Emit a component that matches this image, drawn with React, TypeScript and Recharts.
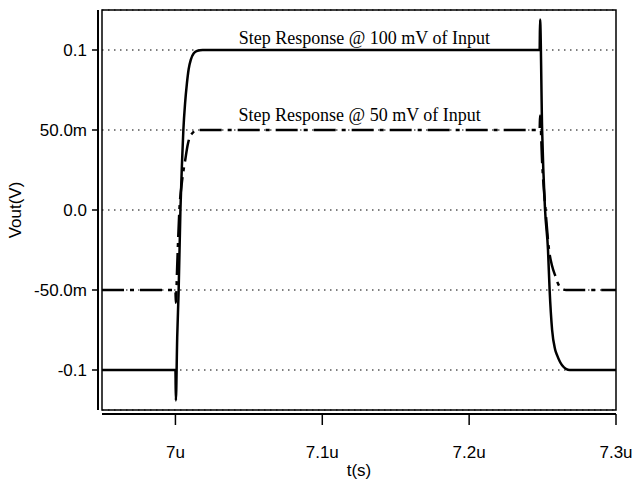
import {
  Label,
  Line,
  LineChart,
  ReferenceArea,
  ReferenceDot,
  CartesianGrid,
  XAxis,
  YAxis,
} from "recharts";

// time in microseconds, Vout in volts
const solidTime = [
  6.95, 7.0, 7.0003, 7.0012, 7.0022, 7.0034, 7.0045, 7.0054, 7.0066, 7.0078,
  7.009, 7.0105, 7.0125, 7.015, 7.0185, 7.248, 7.2483, 7.2497, 7.2517,
  7.2537, 7.2548, 7.2565, 7.2585, 7.26, 7.2633, 7.2685, 7.3,
];
const solidVout = [
  -0.1, -0.1, -0.119, -0.08, -0.05, 0.0, 0.03, 0.05, 0.067, 0.079, 0.088,
  0.094, 0.098, 0.0995, 0.1, 0.1, 0.119, 0.05, 0.0, -0.025, -0.05, -0.075,
  -0.087, -0.091, -0.097, -0.1, -0.1,
];

const dashTime = [
  6.95, 7.0, 7.0003, 7.0012, 7.0027, 7.0045, 7.0068, 7.0082, 7.0095, 7.0115,
  7.015, 7.248, 7.2483, 7.2497, 7.252, 7.2544, 7.2565, 7.259, 7.2605, 7.263,
  7.266, 7.3,
];
const dashVout = [
  -0.05, -0.05, -0.058, -0.035, 0.0, 0.018, 0.032, 0.04, 0.045, 0.048, 0.05,
  0.05, 0.059, 0.03, 0.0, -0.025, -0.035, -0.042, -0.046, -0.049, -0.05,
  -0.05,
];

const xTicks = [7.0, 7.1, 7.2, 7.3];
const xTickLabels = ["7u", "7.1u", "7.2u", "7.3u"];
const yTicks = [-0.1, -0.05, 0, 0.05, 0.1];
const yTickLabels = ["-0.1", "-50.0m", "0.0", "50.0m", "0.1"];

const solidData = solidTime.map((t, i) => ({ t, v: solidVout[i] }));
const dashData = dashTime.map((t, i) => ({ t, v: dashVout[i] }));

const sans = "'Liberation Sans', Arial, sans-serif";
const serif = "'Liberation Serif', 'Times New Roman', serif";

// eslint-disable-next-line @typescript-eslint/no-explicit-any
const YTitle = ({ viewBox }: any) => {
  const cy = viewBox.y + viewBox.height / 2;
  return (
    <text
      x={15}
      y={cy}
      transform={`rotate(-90, 15, ${cy})`}
      textAnchor="middle"
      dominantBaseline="central"
      fontFamily={sans}
      fontSize={17}
      fill="#000"
    >
      Vout(V)
    </text>
  );
};

export default function App() {
  return (
    <div style={{ position: "absolute", left: 0, top: 0, background: "#fff" }}>
      <LineChart
        width={634}
        height={486}
        margin={{ top: 10, right: 18, bottom: 0, left: 0 }}
      >
        <CartesianGrid
          vertical={false}
          stroke="#000"
          strokeDasharray="1.5 4.5"
          strokeWidth={1.2}
        />
        <XAxis
          dataKey="t"
          type="number"
          domain={[6.95, 7.3]}
          allowDataOverflow
          ticks={xTicks}
          tickFormatter={(v: number) => xTickLabels[xTicks.indexOf(v)]}
          height={76}
          tickSize={11}
          tickMargin={25}
          stroke="#000"
          axisLine={{ stroke: "#000", strokeWidth: 2, transform: "translate(0,4)" }}
          tickLine={{ stroke: "#000", strokeWidth: 1.5, transform: "translate(0,4)" }}
          tick={{ fill: "#000", fontSize: 17, fontFamily: sans }}
        >
          <Label
            value="t(s)"
            position="insideBottom"
            offset={10}
            fill="#000"
            fontSize={17}
            fontFamily={sans}
          />
        </XAxis>
        <YAxis
          type="number"
          domain={[-0.125, 0.125]}
          allowDataOverflow
          ticks={yTicks}
          tickFormatter={(v: number) => yTickLabels[yTicks.indexOf(v)]}
          width={102}
          tickSize={6}
          tickMargin={9}
          stroke="#000"
          axisLine={{ stroke: "#000", strokeWidth: 2, transform: "translate(-4,0)" }}
          tickLine={{ stroke: "#000", strokeWidth: 1.5, transform: "translate(-4,0)" }}
          tick={{ fill: "#000", fontSize: 17, fontFamily: sans }}
          label={{ content: YTitle }}
        />
        <ReferenceArea
          x1={6.95}
          x2={7.3}
          y1={-0.125}
          y2={0.125}
          fill="none"
          stroke="#000"
          strokeWidth={1.5}
        />
        <Line
          data={solidData}
          dataKey="v"
          type="monotone"
          stroke="#000"
          strokeWidth={2.5}
          dot={false}
          isAnimationActive={false}
        />
        <Line
          data={dashData}
          dataKey="v"
          type="monotone"
          stroke="#000"
          strokeWidth={2.5}
          strokeDasharray="22 6 4 6"
          dot={false}
          isAnimationActive={false}
        />
        <ReferenceDot
          x={7.1286}
          y={0.1}
          r={0}
          stroke="none"
          fill="none"
          label={{
            value: "Step Response @ 100 mV of Input",
            position: "top",
            offset: 6,
            fill: "#000",
            fontSize: 18,
            fontFamily: serif,
          }}
        />
        <ReferenceDot
          x={7.1255}
          y={0.05}
          r={0}
          stroke="none"
          fill="none"
          label={{
            value: "Step Response @ 50 mV of Input",
            position: "top",
            offset: 9,
            fill: "#000",
            fontSize: 18,
            fontFamily: serif,
          }}
        />
      </LineChart>
    </div>
  );
}
